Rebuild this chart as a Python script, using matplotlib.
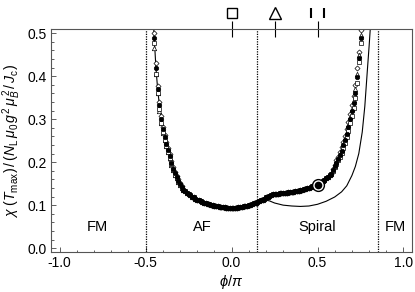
import numpy as np
import matplotlib.pyplot as plt

plt.rcParams['font.family'] = ['Liberation Sans', 'DejaVu Sans']
plt.rcParams['mathtext.fontset'] = 'custom'
plt.rcParams['mathtext.rm'] = 'Liberation Sans'
plt.rcParams['mathtext.it'] = 'Liberation Sans:italic'
plt.rcParams['mathtext.bf'] = 'Liberation Sans:bold'

# phi/pi grids of the simulation data
phi_left = [-0.45, -0.44, -0.43, -0.42, -0.41, -0.40, -0.39, -0.38, -0.37,
            -0.36, -0.35, -0.34, -0.33, -0.32, -0.31, -0.30, -0.29]
phi_mid = [-0.28, -0.27, -0.26, -0.25, -0.24, -0.23, -0.22, -0.21, -0.20, -0.19,
           -0.18, -0.17, -0.16, -0.15, -0.14, -0.13, -0.12, -0.11, -0.10, -0.09,
           -0.08, -0.07, -0.06, -0.05, -0.04, -0.03, -0.02, -0.01, 0.00, 0.01,
           0.02, 0.03, 0.04, 0.05, 0.06, 0.07, 0.08, 0.09, 0.10, 0.11,
           0.12, 0.13, 0.14, 0.15, 0.16, 0.17, 0.18, 0.19, 0.20, 0.21,
           0.22, 0.23, 0.24, 0.25, 0.26, 0.27, 0.28, 0.29, 0.30, 0.31,
           0.32, 0.33, 0.34, 0.35, 0.36, 0.37, 0.38, 0.39, 0.40, 0.41,
           0.42, 0.43, 0.44, 0.45, 0.46, 0.47, 0.48, 0.49, 0.50, 0.51,
           0.52, 0.53, 0.54, 0.55, 0.56, 0.57, 0.58]
phi_right = [0.59, 0.60, 0.61, 0.62, 0.63, 0.64, 0.65, 0.66, 0.67, 0.68,
             0.69, 0.70, 0.71, 0.72, 0.73, 0.74, 0.75, 0.76]

# chi(Tmax) in the flat part, same for all sizes
chi_mid = [0.136, 0.132, 0.129, 0.126, 0.123, 0.120, 0.118, 0.115, 0.113, 0.111,
           0.109, 0.107, 0.106, 0.104, 0.103, 0.102, 0.101, 0.100, 0.099, 0.098,
           0.097, 0.096, 0.096, 0.095, 0.095, 0.094, 0.094, 0.094, 0.094, 0.094,
           0.094, 0.094, 0.095, 0.095, 0.096, 0.097, 0.098, 0.099, 0.100, 0.101,
           0.102, 0.104, 0.105, 0.107, 0.109, 0.111, 0.113, 0.115, 0.118, 0.120,
           0.122, 0.124, 0.125, 0.126, 0.127, 0.127, 0.128, 0.128, 0.129, 0.129,
           0.129, 0.130, 0.130, 0.131, 0.131, 0.132, 0.133, 0.134, 0.135, 0.136,
           0.137, 0.138, 0.140, 0.141, 0.142, 0.144, 0.145, 0.147, 0.148, 0.150,
           0.153, 0.156, 0.159, 0.162, 0.166, 0.169, 0.172]

# steep branches, per series
circ_left = [0.49, 0.42, 0.37, 0.333, 0.300, 0.276, 0.258, 0.243, 0.228,
             0.214, 0.198, 0.184, 0.174, 0.165, 0.157, 0.149, 0.142]
circ_right = [0.181, 0.190, 0.199, 0.207, 0.216, 0.227, 0.239, 0.252, 0.266,
              0.282, 0.300, 0.318, 0.338, 0.362, 0.398, 0.442, 0.488, 0.53]
sq_left = [0.478, 0.405, 0.36, 0.324, 0.292, 0.269, 0.252, 0.238, 0.223,
           0.210, 0.195, 0.181, 0.171, 0.163, 0.155, 0.147, 0.141]
sq_right = [0.179, 0.188, 0.196, 0.204, 0.212, 0.222, 0.233, 0.245, 0.258,
            0.273, 0.290, 0.307, 0.326, 0.350, 0.383, 0.432, 0.478, 0.52]
tri_left = [0.465, 0.405, 0.362, 0.318, 0.290, 0.268, 0.251, 0.237, 0.223,
            0.209, 0.194, 0.181, 0.171, 0.162, 0.155, 0.147, 0.140]
tri_right = [0.182, 0.191, 0.200, 0.209, 0.218, 0.229, 0.242, 0.256, 0.270,
             0.287, 0.305, 0.324, 0.345, 0.370, 0.405, 0.450, 0.495, 0.54]
dia_left = [0.50, 0.43, 0.378, 0.34, 0.307, 0.282, 0.263, 0.248, 0.233,
            0.218, 0.202, 0.188, 0.177, 0.168, 0.160, 0.152, 0.145]
dia_right = [0.185, 0.194, 0.204, 0.213, 0.223, 0.235, 0.248, 0.262, 0.277,
             0.294, 0.313, 0.333, 0.355, 0.380, 0.418, 0.457, 0.507, 0.55]

# theory curve
phi_theory = [-0.455, -0.45, -0.44, -0.43, -0.42, -0.40, -0.38, -0.35, -0.32,
              -0.28, -0.24, -0.20, -0.15, -0.10, -0.05, 0.0, 0.05, 0.10, 0.15,
              0.19, 0.22, 0.25, 0.30, 0.35, 0.40, 0.45, 0.50, 0.55, 0.60,
              0.64, 0.67, 0.70, 0.72, 0.74, 0.76, 0.775, 0.79, 0.80, 0.81]
chi_theory = [0.53, 0.49, 0.42, 0.37, 0.333, 0.276, 0.243, 0.198, 0.165,
              0.137, 0.122, 0.112, 0.104, 0.099, 0.095, 0.094, 0.095, 0.099,
              0.106, 0.112, 0.110, 0.105, 0.100, 0.098, 0.097, 0.098, 0.102,
              0.109, 0.119, 0.131, 0.145, 0.169, 0.19, 0.22, 0.27, 0.33,
              0.415, 0.47, 0.53]

highlight_phi = [0.5]
highlight_chi = [0.147]

boundaries = [-0.5, 0.148, 0.852]
region_names = ['FM', 'AF', 'Spiral', 'FM']
region_phi = [-0.78, -0.17, 0.5, 0.95]
top_ticks = [0.0, 0.25, 0.5]

fig = plt.figure(figsize=(4.15, 2.92), dpi=100)
ax = fig.add_axes([0.123, 0.137, 0.870, 0.764])
ax.set_xlim(-1.05, 1.05)
ax.set_ylim(-0.009, 0.51)

for b in boundaries:
    ax.axvline(b, color='k', ls=(0, (1, 1)), lw=0.9)

ax.plot(phi_theory, chi_theory, color='k', lw=0.8)

series = [(dia_left, dia_right, 'D', 'white', 2.6),
          (tri_left, tri_right, '^', 'white', 3.2),
          (sq_left, sq_right, 's', 'white', 2.8),
          (circ_left, circ_right, 'o', 'black', 3.2)]
for left, right, m, fc, ms in series:
    ax.plot(phi_left + phi_mid + phi_right, left + chi_mid + right, ls='none',
            marker=m, ms=ms, mfc=fc, mec='k', mew=0.5)

ax.plot(highlight_phi, highlight_chi, ls='none', marker='o', ms=8.5,
        mfc='white', mec='k', mew=1.0)
ax.plot(highlight_phi, highlight_chi, ls='none', marker='o', ms=4.5,
        mfc='k', mec='k')

for name, p in zip(region_names, region_phi):
    ax.text(p, 0.05, name, ha='center', va='center', fontsize=10.5)

# special ticks and symbols above the frame
ax.plot(top_ticks, [0.51] * 3, ls='none', marker='|', ms=11, mew=0.8,
        color='k', clip_on=False)
ax.plot([0.0], [0.548], ls='none', marker='s', ms=7, mfc='white', mec='k',
        mew=1.0, clip_on=False)
ax.plot([0.25], [0.548], ls='none', marker='^', ms=8, mfc='white', mec='k',
        mew=1.0, clip_on=False)
ax.plot([0.46, 0.54], [0.548, 0.548], ls='none', marker='|', ms=7, mew=1.5,
        color='k', clip_on=False)

ax.set_xticks([-1.0, -0.5, 0.0, 0.5, 1.0])
ax.set_xticks(np.arange(-1.0, 1.01, 0.1), minor=True)
ax.set_yticks([0.0, 0.1, 0.2, 0.3, 0.4, 0.5])
ax.set_yticks(np.arange(0.0, 0.51, 0.02), minor=True)
ax.xaxis.set_major_formatter(plt.FormatStrFormatter('%.1f'))
ax.yaxis.set_major_formatter(plt.FormatStrFormatter('%.1f'))
ax.tick_params(which='both', direction='in', top=False, right=False,
               labelsize=10, width=0.6, color='#444444')
ax.tick_params(which='major', length=3.5, pad=3)
ax.tick_params(which='minor', length=1.8)
for s in ax.spines.values():
    s.set_color('#555555')
    s.set_linewidth(0.8)

ax.set_xlabel(r'$\phi/\pi$', fontsize=10.5, labelpad=2)
ax.set_ylabel(r'$\chi\ (T_{\rm max})\,/\,(N_{\rm L}\,\mu_0\,g^2\,\mu_B^{\,2}\,/\,J_{\rm c})$',
              fontsize=10.2, labelpad=3)

plt.savefig('out.png', dpi=100)
